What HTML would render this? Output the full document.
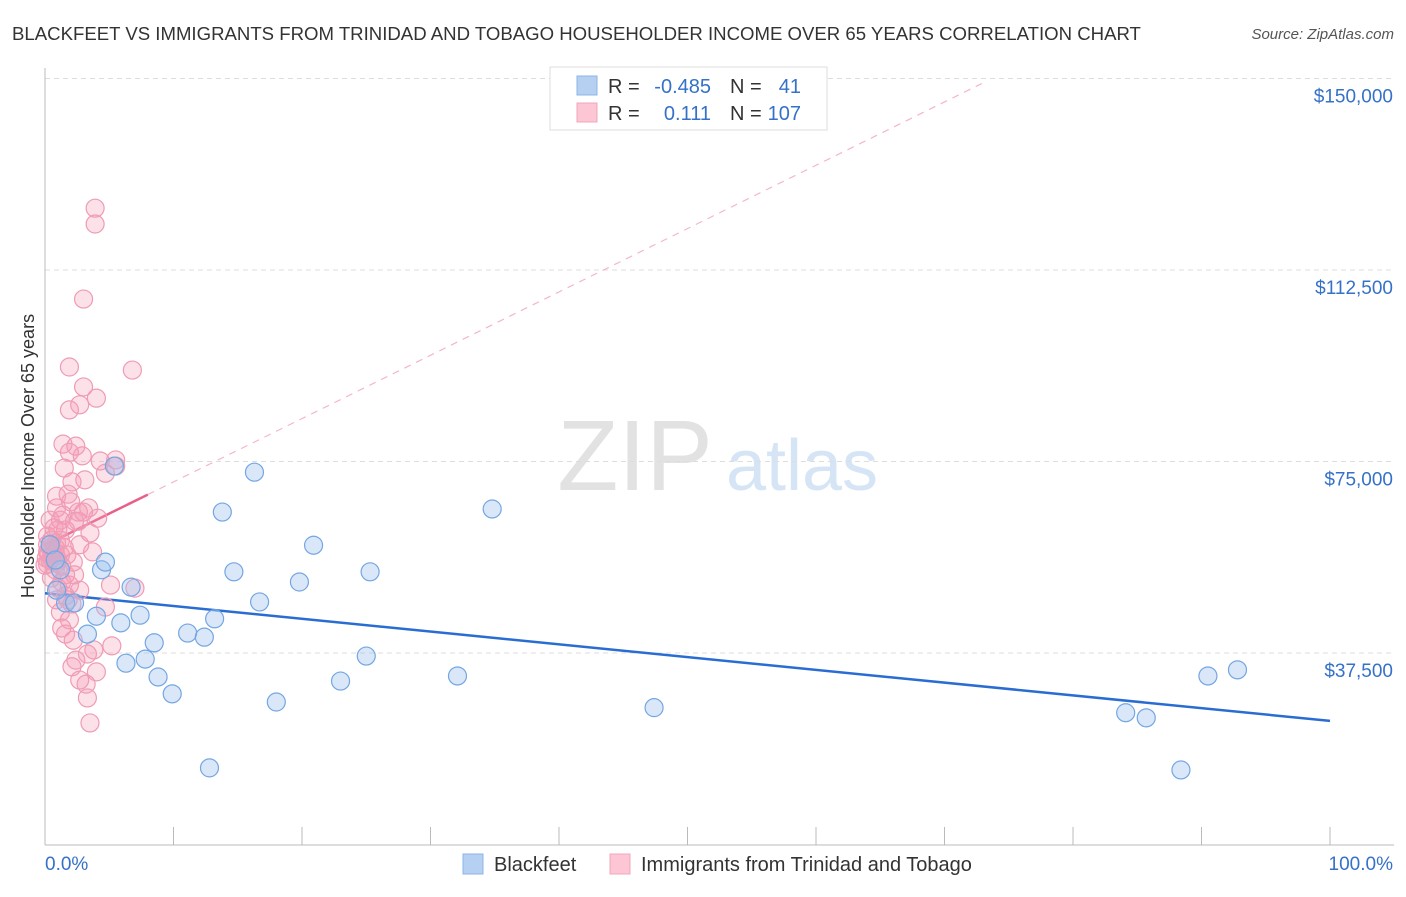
<!DOCTYPE html>
<html><head><meta charset="utf-8"><style>
body{margin:0;background:#fff;font-family:"Liberation Sans",sans-serif}
svg text{font-family:"Liberation Sans",sans-serif}
</style></head><body>
<svg id="c" width="1406" height="892">
<text x="12" y="40" font-size="18.6" fill="#333">BLACKFEET VS IMMIGRANTS FROM TRINIDAD AND TOBAGO HOUSEHOLDER INCOME OVER 65 YEARS CORRELATION CHART</text>
<text x="1394" y="39" font-size="15" fill="#555" font-style="italic" text-anchor="end">Source: ZipAtlas.com</text>
<text x="34" y="456" font-size="18" fill="#333" text-anchor="middle" transform="rotate(-90 34 456)">Householder Income Over 65 years</text>
<g><text x="635" y="490" font-size="100" fill="#e2e2e2" text-anchor="middle" font-family="Liberation Serif">ZIP</text><text x="802" y="490" font-size="72" fill="#d6e5f5" text-anchor="middle">atlas</text></g>
<g id="grid"></g><g id="axes"></g><g id="lines"></g><g id="pts"></g>
<g>
<rect x="550" y="67" width="277" height="63" fill="#fff" stroke="#ddd"/>
<rect x="577" y="76" width="20" height="19" fill="#b6d0f2" stroke="#8cb4e8"/>
<rect x="577" y="103" width="20" height="19" fill="#fcc6d4" stroke="#f1a6bc"/>
<text x="608" y="93" font-size="20" fill="#333">R = </text><text x="711" y="93" font-size="20" fill="#3571c9" text-anchor="end">-0.485</text>
<text x="730" y="93" font-size="20" fill="#333">N = </text><text x="801" y="93" font-size="20" fill="#3571c9" text-anchor="end">41</text>
<text x="608" y="120" font-size="20" fill="#333">R = </text><text x="711" y="120" font-size="20" fill="#3571c9" text-anchor="end">0.111</text>
<text x="730" y="120" font-size="20" fill="#333">N = </text><text x="801" y="120" font-size="20" fill="#3571c9" text-anchor="end">107</text>
</g>
<g>
<rect x="463" y="854" width="20" height="20" fill="#b6d0f2" stroke="#8cb4e8"/>
<text x="494" y="871" font-size="20" fill="#333">Blackfeet</text>
<rect x="610" y="854" width="20" height="20" fill="#fcc6d4" stroke="#f1a6bc"/>
<text x="641" y="871" font-size="20" fill="#333">Immigrants from Trinidad and Tobago</text>
</g>
<text x="45" y="870" font-size="19" fill="#3571c9">0.0%</text>
<text x="1393" y="870" font-size="19" fill="#3571c9" text-anchor="end">100.0%</text>
</svg>
<script>
const yTicks=[37500,75000,112500,150000];
const yTickLabels=["$37,500","$75,000","$112,500","$150,000"];
const blueX=[1.6,3.3,4.0,4.4,4.7,5.4,5.9,6.3,6.7,7.4,7.8,8.5,8.8,9.9,11.1,12.4,12.8,13.2,13.8,14.7,16.3,16.7,18.0,19.8,20.9,23.0,25.0,25.3,32.1,34.8,47.4,84.1,85.7,88.4,90.5,92.8,1.2,0.4,0.8,2.3,0.9];
const blueY=[47.3,41.2,44.7,53.8,55.3,74.1,43.4,35.5,50.4,44.9,36.3,39.5,32.8,29.5,41.4,40.6,15.0,44.2,65.1,53.4,72.9,47.5,27.9,51.4,58.6,32.0,36.9,53.4,33.0,65.7,26.8,25.8,24.8,14.6,33.0,34.2,53.8,58.7,55.7,47.3,49.8];
const pinkX=[3.9,3.9,3.0,1.9,6.8,3.0,4.0,2.7,1.9,1.4,2.4,1.9,2.9,4.3,5.5,1.5,4.7,2.1,1.8,0.9,2.0,0.9,3.4,2.6,1.4,4.1,0.4,2.6,0.7,1.6,3.5,0.2,1.2,2.7,0.8,3.7,0.3,1.7,0.5,1.0,2.2,0.2,1.3,0.8,2.3,0.5,1.3,1.9,1.0,7.0,2.7,1.6,0.9,2.1,4.7,1.2,1.9,1.6,2.2,3.8,3.3,5.2,2.4,2.1,4.0,3.2,3.3,3.5,0.4,0.6,0.9,0,0.2,1.2,1.5,0.4,1.0,0.5,1.6,1.2,3.1,2.3,1.8,5.1,1.3,2.7,3.0,5.5,0.2,0.8,0.9,0.1];
const pinkY=[124.6,121.5,106.8,93.5,92.9,89.6,87.4,86.1,85.1,78.4,78.0,76.8,76.1,75.1,74.1,73.7,72.7,71.0,68.6,68.2,67.1,65.9,65.9,65.1,64.5,63.9,63.5,63.3,62.0,61.6,61.0,60.4,59.6,58.7,58.1,57.3,57.1,56.7,56.1,55.7,55.3,54.9,54.5,53.8,52.8,52.2,51.4,50.8,50.2,50.2,49.8,48.7,47.9,47.1,46.5,45.5,44.0,41.2,40.0,38.1,37.3,38.9,36.1,34.8,33.8,31.4,28.7,23.8,58.1,56.7,59.1,54.7,58.7,56.7,58.1,55.7,61.6,59.6,52.8,63.5,71.4,63.3,47.9,50.8,42.4,32.2,65.1,75.3,57.3,57.1,55.1,56.1];
const blueTrend=[49.2,24.2];
const pinkTrend=[58.6,1.24];
const NS="http://www.w3.org/2000/svg";
const X=p=>45+p*12.85;
function mk(t,a,parent){const e=document.createElementNS(NS,t);for(const k in a)e.setAttribute(k,a[k]);document.getElementById(parent).appendChild(e);return e;}
const py=k=>844.5-k*5.1069;
yTicks.forEach((t,i)=>{const y=py(t/1000);
 const g=mk('line',{x1:45,x2:1394,y1:y,y2:y,stroke:'#ddd','stroke-dasharray':'5,4'},'grid');
 
 
 const l=mk('text',{x:1393,y:y+24,'font-size':19,fill:'#3571c9','text-anchor':'end'},'grid');l.textContent=yTickLabels[i];
 
 });
const a1=mk('line',{x1:45,x2:1394,y1:845,y2:845,stroke:'#bbb'},'axes');


const a2=mk('line',{x1:45,x2:45,y1:68,y2:845,stroke:'#bbb'},'axes');


for(let i=1;i<=10;i++){const t=mk('line',{x1:X(i*10),x2:X(i*10),y1:827,y2:845,stroke:'#bbb'},'axes');
 
 }
const bl=mk('line',{x1:X(0),y1:py(blueTrend[0]),x2:X(100),y2:py(blueTrend[1]),stroke:'#2a6dd2','stroke-width':2.5},'lines');


const pxEnd=(149-pinkTrend[0])/pinkTrend[1];
const pd=mk('line',{x1:X(8),y1:py(pinkTrend[0]+8*pinkTrend[1]),x2:X(pxEnd),y2:py(pinkTrend[0]+pxEnd*pinkTrend[1]),stroke:'#f4b6c8','stroke-width':1.2,'stroke-dasharray':'7,6'},'lines');


const ps=mk('line',{x1:X(0),y1:py(pinkTrend[0]),x2:X(8),y2:py(pinkTrend[0]+8*pinkTrend[1]),stroke:'#e8608a','stroke-width':2.5},'lines');


pinkX.forEach((x,i)=>{const c=mk('circle',{cx:X(x),cy:py(pinkY[i]),r:9,fill:'rgba(245,155,182,0.3)',stroke:'#ef9bb4','stroke-width':1.2},'pts');
 
 });
blueX.forEach((x,i)=>{const c=mk('circle',{cx:X(x),cy:py(blueY[i]),r:9,fill:'rgba(160,196,240,0.4)',stroke:'#74a6e2','stroke-width':1.2},'pts');
 
 });
</script>
</body></html>
